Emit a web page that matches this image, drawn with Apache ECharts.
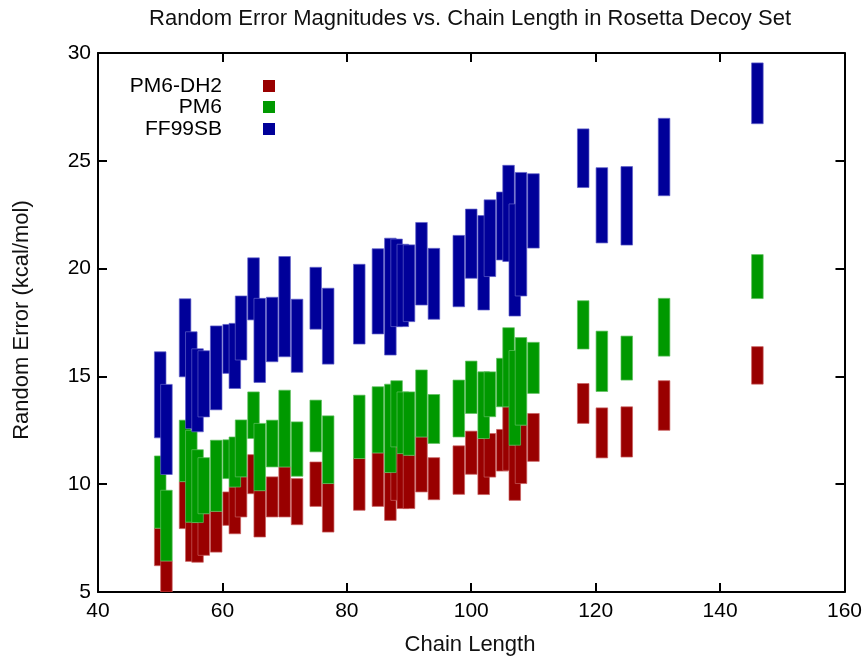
<!DOCTYPE html>
<html>
<head>
<meta charset="utf-8">
<script src="https://cdn.jsdelivr.net/npm/echarts@6/dist/echarts.min.js"></script>
<style>
html,body{margin:0;padding:0;background:#fff;}
#chart{width:865px;height:657px;}
</style>
</head>
<body>
<div id="chart"></div>
<script>
// ---- data ----
const chartTitle = 'Random Error Magnitudes vs. Chain Length in Rosetta Decoy Set';
const xTitle = 'Chain Length';
const yTitle = 'Random Error (kcal/mol)';
const seriesNames = ['PM6-DH2', 'PM6', 'FF99SB'];
const xTicks = [40, 60, 80, 100, 120, 140, 160];
const yTicks = [5, 10, 15, 20, 25, 30];

const chainLength = [50, 51, 54, 55, 56, 57, 59, 61, 62, 63, 65, 66, 68, 70, 72, 75, 77,
  82, 85, 87, 88, 89, 90, 92, 94, 98, 100, 102, 103, 105, 106, 107, 108, 110,
  118, 121, 125, 131, 146];

const pm6dh2Low  = [6.22, 4.5, 7.94, 6.42, 6.38, 6.7, 6.85, 8.09, 7.7, 8.48, 9.56, 7.55, 8.48, 8.48, 8.12, 8.97, 7.78,
  8.79, 8.97, 8.32, 9.25, 8.87, 8.87, 9.64, 9.28, 9.53, 10.46, 9.52, 10.33, 10.61, 10.64, 9.25, 10.03, 11.06,
  12.82, 11.22, 11.26, 12.5, 14.64];
const pm6dh2High = [7.96, 6.44, 10.12, 8.24, 8.22, 8.63, 8.74, 9.64, 9.87, 10.34, 11.37, 9.7, 10.34, 10.8, 10.26, 11.03, 10.03,
  11.19, 11.45, 10.54, 11.73, 11.42, 11.34, 12.19, 11.23, 11.78, 12.46, 12.12, 12.35, 12.54, 13.59, 11.81, 12.74, 13.28,
  14.67, 13.54, 13.59, 14.8, 16.38];

const pm6Low  = [7.96, 6.44, 10.12, 8.24, 8.22, 8.63, 8.74, 10.26, 9.87, 10.34, 12.12, 9.7, 10.8, 10.8, 10.37, 11.5, 10.03,
  11.19, 11.45, 10.54, 11.73, 11.42, 11.34, 12.19, 11.89, 12.19, 13.28, 12.12, 13.13, 13.59, 13.59, 11.81, 12.74, 14.21,
  16.27, 14.3, 14.83, 15.94, 18.61];
const pm6High = [11.31, 9.72, 12.97, 12.5, 11.6, 11.23, 12.04, 12.06, 12.19, 12.98, 14.28, 12.82, 12.97, 14.36, 12.89, 13.9, 13.17,
  14.13, 14.52, 14.64, 14.8, 14.28, 14.28, 15.3, 14.16, 14.83, 15.71, 15.21, 15.21, 15.84, 17.26, 16.2, 16.8, 16.58,
  18.51, 17.1, 16.87, 18.62, 20.65];

const ff99sbLow  = [12.15, 10.45, 14.98, 12.58, 12.43, 13.12, 13.45, 15.14, 14.44, 15.76, 17.62, 14.72, 15.68, 15.91, 15.19, 17.19, 15.57,
  16.5, 16.97, 15.99, 17.31, 17.31, 17.54, 18.31, 17.65, 18.23, 19.55, 18.08, 19.63, 20.4, 20.33, 17.8, 18.73, 20.95,
  23.76, 21.19, 21.09, 23.38, 26.72];
const ff99sbHigh = [16.14, 14.63, 18.6, 17.07, 16.28, 16.19, 17.34, 17.41, 17.46, 18.73, 20.5, 18.62, 18.67, 20.56, 18.58, 20.06, 19.09,
  20.2, 20.92, 21.41, 21.37, 21.13, 21.1, 22.14, 20.94, 21.54, 22.76, 22.46, 23.19, 23.55, 24.79, 23.0, 24.46, 24.4,
  26.48, 24.68, 24.73, 26.97, 29.54];

// ---- styling ----
const colors = ['#990000', '#009900', '#000099'];
const edges = ['#c86060', '#60c060', '#6060c8'];
const HALF = 0.93;
const FONT = '"Liberation Sans", Arial, sans-serif';

const chart = echarts.init(document.getElementById('chart'), null, {renderer: 'canvas'});

function makeData(low, high) {
  return chainLength.map((L, i) => [L, low[i], high[i]]);
}
function makeRender(idx) {
  return function (params, api) {
    const L = api.value(0), lo = api.value(1), hi = api.value(2);
    const p1 = api.coord([L - HALF, hi]);
    const p2 = api.coord([L + HALF, lo]);
    const cs = params.coordSys;
    const shape = echarts.graphic.clipRectByRect(
      {x: p1[0], y: p1[1], width: p2[0] - p1[0], height: p2[1] - p1[1]},
      {x: cs.x, y: cs.y, width: cs.width, height: cs.height});
    if (!shape) return null;
    return {type: 'rect', shape: shape, style: {fill: colors[idx], stroke: edges[idx], lineWidth: 0.7}};
  };
}

const lows = [pm6dh2Low, pm6Low, ff99sbLow];
const highs = [pm6dh2High, pm6High, ff99sbHigh];
const series = seriesNames.map((name, i) => ({
  type: 'custom', name: name, xAxisIndex: 0, yAxisIndex: 0,
  renderItem: makeRender(i), data: makeData(lows[i], highs[i]),
  encode: {x: 0, y: [1, 2]}, z: 2 + i, silent: true, clip: true
}));

const axisLine = {show: true, lineStyle: {color: '#000', width: 2}};
const tick = {show: true, inside: true, length: 9, lineStyle: {color: '#000', width: 2}};
const label = {color: '#000', fontSize: 21, fontFamily: FONT};

const legendGraphics = [];
const legendY = [86, 107, 129];
seriesNames.forEach((n, i) => {
  legendGraphics.push({type: 'text', x: 222, y: legendY[i],
    style: {text: n, fill: '#000', font: '21px ' + FONT, textAlign: 'right', textVerticalAlign: 'middle'}});
  legendGraphics.push({type: 'rect', left: 263, top: legendY[i] - 6,
    shape: {width: 12, height: 12}, style: {fill: colors[i]}});
});

chart.setOption({
  animation: false,
  backgroundColor: '#fff',
  grid: {left: 98, right: 19, top: 53, bottom: 65, containLabel: false},
  xAxis: [
    {type: 'value', min: xTicks[0], max: xTicks[xTicks.length - 1], interval: 20, position: 'bottom',
      axisLine: axisLine, axisTick: tick, splitLine: {show: false},
      axisLabel: Object.assign({margin: 9}, label)},
    {type: 'value', min: xTicks[0], max: xTicks[xTicks.length - 1], interval: 20, position: 'top',
      axisLine: axisLine, axisTick: tick, splitLine: {show: false}, axisLabel: {show: false}}
  ],
  yAxis: [
    {type: 'value', min: yTicks[0], max: yTicks[yTicks.length - 1], interval: 5, position: 'left',
      axisLine: axisLine, axisTick: tick, splitLine: {show: false},
      axisLabel: Object.assign({margin: 7}, label)},
    {type: 'value', min: yTicks[0], max: yTicks[yTicks.length - 1], interval: 5, position: 'right',
      axisLine: axisLine, axisTick: tick, splitLine: {show: false}, axisLabel: {show: false}}
  ],
  graphic: [
    {type: 'text', x: 470, y: 19,
      style: {text: chartTitle, fill: '#111', font: '22px ' + FONT, textAlign: 'center', textVerticalAlign: 'middle'}},
    {type: 'text', x: 470, y: 645,
      style: {text: xTitle, fill: '#111', font: '22px ' + FONT, textAlign: 'center', textVerticalAlign: 'middle'}},
    {type: 'text', x: 22, y: 320, rotation: Math.PI / 2,
      style: {text: yTitle, fill: '#111', font: '22px ' + FONT, textAlign: 'center', textVerticalAlign: 'middle'}}
  ].concat(legendGraphics),
  series: series
});
</script>
</body>
</html>
